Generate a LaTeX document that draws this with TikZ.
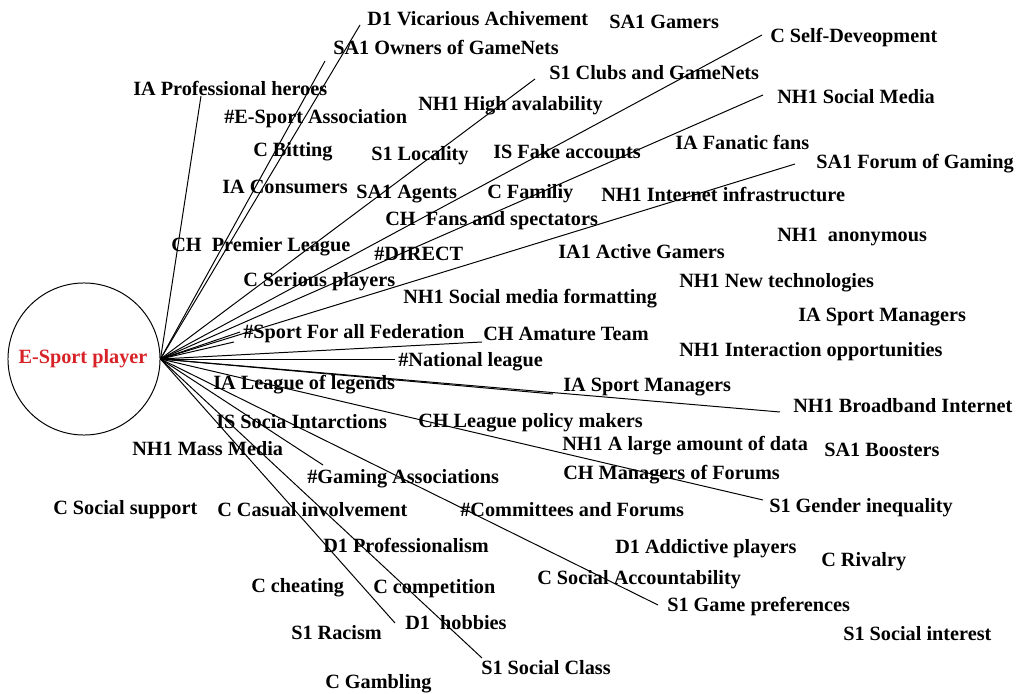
\documentclass[tikz,border=0pt]{standalone}
\usepackage{fontspec}
\setmainfont{Liberation Serif}
\definecolor{hubred}{RGB}{215,35,40}
\begin{document}
\begin{tikzpicture}[x=0.025cm,y=-0.025cm]
    \tikzstyle{every node}+=[inner sep=0pt]
    \tikzstyle{lab}=[anchor=west,yshift=-0.025cm,font=\fontsize{14.4}{16}\selectfont\bfseries]
    \tikzstyle{link}=[black,line width=0.7pt]
    \useasboundingbox (0,0) rectangle (1024,694);
    \node [draw,circle,line width=0.7pt,minimum size=3.8cm] (player) at (84,359) {};
    \node [lab,anchor=center,text=hubred] (playername) at (83,358) {E-Sport player};
    \node [lab] (vicarious) at (367,18) {D1 Vicarious Achivement};
    \node [lab] (gamers) at (609,21) {SA1 Gamers};
    \node [lab] (selfdev) at (770,37) {C Self-Deveopment};
    \node [lab] (owners) at (333,46) {SA1 Owners of GameNets};
    \node [lab] (clubs) at (549,72) {S1 Clubs and GameNets};
    \node [lab] (heroes) at (133,87) {IA Professional heroes};
    \node [lab] (highav) at (418,105) {NH1 High avalability};
    \node [lab] (socmedia) at (777,96) {NH1 Social Media};
    \node [lab] (esportassoc) at (224,118) {\#E-Sport Association};
    \node [lab] (fanatic) at (675,141) {IA Fanatic fans};
    \node [lab] (bitting) at (253,151) {C Bitting};
    \node [lab] (locality) at (371,155) {S1 Locality};
    \node [lab] (fake) at (493,151) {IS Fake accounts};
    \node [lab] (forum) at (816,163) {SA1 Forum of Gaming};
    \node [lab] (consumers) at (222,186) {IA Consumers};
    \node [lab] (agents) at (356,193) {SA1 Agents};
    \node [lab] (family) at (487,193) {C Familiy};
    \node [lab] (infra) at (601,193) {NH1 Internet infrastructure};
    \node [lab] (fans) at (385,220) {CH\ \ Fans and spectators};
    \node [lab] (premier) at (171,246) {CH\ \ Premier League};
    \node [lab] (direct) at (374,253) {\#DIRECT};
    \node [lab] (active) at (558,251) {IA1 Active Gamers};
    \node [lab] (anon) at (777,236) {NH1\ \ anonymous};
    \node [lab] (serious) at (243,281) {C Serious players};
    \node [lab] (newtech) at (679,282) {NH1 New technologies};
    \node [lab] (formatting) at (403,298) {NH1 Social media formatting};
    \node [lab] (managersa) at (798,316) {IA Sport Managers};
    \node [lab] (sportall) at (243,333) {\#Sport For all Federation};
    \node [lab] (amature) at (483,333) {CH Amature Team};
    \node [lab] (national) at (398,361) {\#National league};
    \node [lab] (interaction) at (679,351) {NH1 Interaction opportunities};
    \node [lab] (lol) at (213,384) {IA League of legends};
    \node [lab] (managersb) at (563,386) {IA Sport Managers};
    \node [lab] (broadband) at (793,405) {NH1 Broadband Internet};
    \node [lab] (interactions) at (216,421) {IS Socia Intarctions};
    \node [lab] (policy) at (418,422) {CH League policy makers};
    \node [lab] (massmedia) at (132,448) {NH1 Mass Media};
    \node [lab] (data) at (562,445) {NH1 A large amount of data};
    \node [lab] (boosters) at (824,449) {SA1 Boosters};
    \node [lab] (forummgr) at (563,474) {CH Managers of Forums};
    \node [lab] (gamingassoc) at (307,478) {\#Gaming Associations};
    \node [lab] (support) at (53,509) {C Social support};
    \node [lab] (casual) at (217,509) {C Casual involvement};
    \node [lab] (committees) at (460,509) {\#Committees and Forums};
    \node [lab] (gender) at (769,507) {S1 Gender inequality};
    \node [lab] (professionalism) at (323,544) {D1 Professionalism};
    \node [lab] (addictive) at (615,548) {D1 Addictive players};
    \node [lab] (rivalry) at (821,561) {C Rivalry};
    \node [lab] (accountability) at (537,579) {C Social Accountability};
    \node [lab] (cheating) at (251,587) {C cheating};
    \node [lab] (competition) at (373,588) {C competition};
    \node [lab] (preferences) at (667,606) {S1 Game preferences};
    \node [lab] (hobbies) at (405,622) {D1\ \ hobbies};
    \node [lab] (racism) at (291,632) {S1 Racism};
    \node [lab] (interest) at (843,633) {S1 Social interest};
    \node [lab] (socclass) at (481,667) {S1 Social Class};
    \node [lab] (gambling) at (325,683) {C Gambling};
    % free ends of the spokes
    \coordinate (heroes-end) at (201,96);
    \coordinate (vicarious-end) at (360,25);
    \coordinate (owners-end) at (325,61);
    \coordinate (clubs-end) at (535,79);
    \coordinate (selfdev-end) at (762,35);
    \coordinate (socmedia-end) at (763,95);
    \coordinate (forum-end) at (795,164);
    \coordinate (sportalla-end) at (240,332);
    \coordinate (sportallb-end) at (234,342);
    \coordinate (amature-end) at (482,342);
    \coordinate (national-end) at (395,359);
    \coordinate (managersb-end) at (553,394);
    \coordinate (broadband-end) at (780,412);
    \coordinate (gender-end) at (763,500);
    \coordinate (gamingassoc-end) at (323,465);
    \coordinate (preferences-end) at (658,605);
    \coordinate (hobbies-end) at (395,623);
    \coordinate (socclass-end) at (482,658);
    \foreach \e in {heroes,vicarious,owners,clubs,selfdev,socmedia,forum,sportalla,sportallb,amature,national,managersb,broadband,gender,gamingassoc,preferences,hobbies,socclass}
        \draw [link] (player.east) -- (\e-end);
\end{tikzpicture}
\end{document}
